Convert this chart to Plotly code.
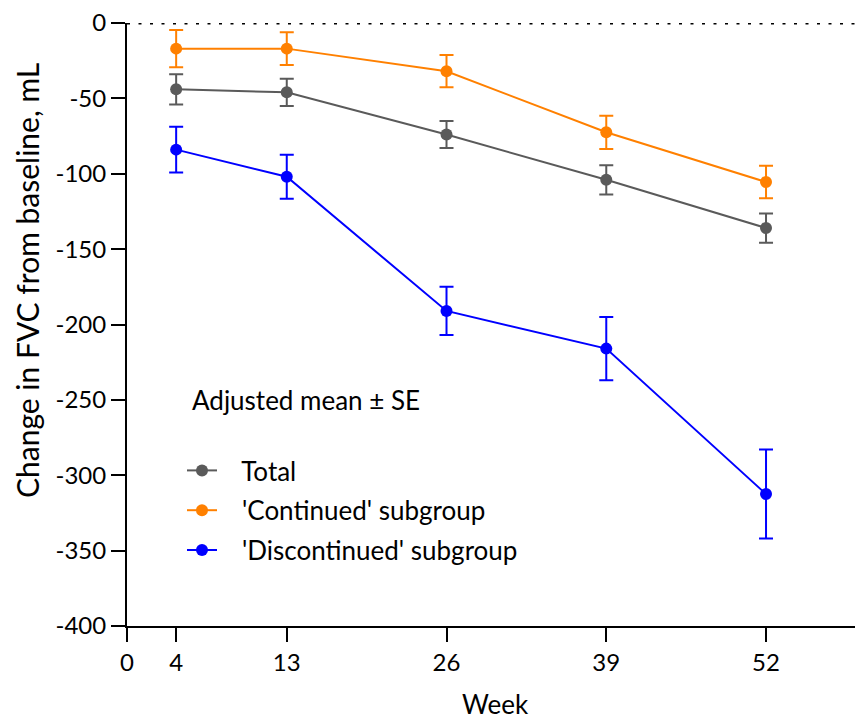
import plotly.graph_objects as go

weeks = [4, 13, 26, 39, 52]
total_mean = [-44, -46, -74, -104, -136]
total_se = [10, 9, 9, 9.7, 9.7]
cont_mean = [-17, -17, -32, -72.5, -105.5]
cont_se = [12.4, 10.8, 10.7, 11, 10.8]
disc_mean = [-84, -102, -191, -216, -312.5]
disc_se = [15.2, 14.6, 16, 21, 29.5]

x_ticks = [0, 4, 13, 26, 39, 52]
y_ticks = [0, -50, -100, -150, -200, -250, -300, -350, -400]

series = [
    ("Total", total_mean, total_se, "#5a5a5a"),
    ("'Continued' subgroup", cont_mean, cont_se, "#ff8000"),
    ("'Discontinued' subgroup", disc_mean, disc_se, "#0000ff"),
]

FONT = "Lato"
TICK = 24
TXT = 26
L, T, W, H = 127, 23, 728, 603

fig = go.Figure()
for i, (name, m, se, col) in enumerate(series):
    fig.add_trace(go.Scatter(
        x=weeks, y=m, name="\u00a0\u00a0\u00a0" + name, mode="lines+markers",
        line=dict(color=col, width=2),
        marker=dict(color=col, size=12),
        error_y=dict(type="data", array=se, visible=True, color=col, thickness=2, width=7),
        legendgroup=str(i),
    ))

fig.add_shape(type="line", xref="paper", yref="y", x0=0, x1=1, y0=0, y1=0,
              line=dict(color="black", width=3, dash="3px,8.5px"), layer="above")

def px(xp):
    return (xp - L) / W

def py(yp):
    return (T + H - yp) / H

fig.update_layout(
    width=855, height=720,
    margin=dict(l=L, r=855 - L - W, t=T, b=720 - T - H),
    plot_bgcolor="white", paper_bgcolor="white",
    font=dict(family=FONT, size=TICK, color="black"),
    showlegend=True,
    legend=dict(x=px(182), y=py(447), xanchor="left", yanchor="top",
                font=dict(size=TXT, family=FONT), tracegroupgap=3,
                bgcolor="rgba(0,0,0,0)", itemwidth=30),
    xaxis=dict(range=[0, 59.24], tickvals=x_ticks, ticktext=[str(v) for v in x_ticks],
               showgrid=False, zeroline=False, showline=True, linecolor="black", linewidth=2,
               ticks="outside", ticklen=14, tickwidth=2, tickcolor="black",
               tickfont=dict(size=TICK, family=FONT)),
    yaxis=dict(range=[-400, 0], tickvals=y_ticks, ticktext=[str(v) for v in y_ticks],
               showgrid=False, zeroline=False, showline=True, linecolor="black", linewidth=2,
               ticks="outside", ticklen=14, tickwidth=2, tickcolor="black",
               tickfont=dict(size=TICK, family=FONT)),
    annotations=[
        dict(text="Adjusted mean ± SE", xref="paper", yref="paper",
             x=px(190), y=py(400), xanchor="left", yanchor="middle",
             showarrow=False, font=dict(size=TXT, family=FONT)),
        dict(text="Week", xref="paper", yref="paper",
             x=px(495), y=py(704), xanchor="center", yanchor="middle",
             showarrow=False, font=dict(size=TXT, family=FONT)),
        dict(text="Change in FVC from baseline, mL", xref="paper", yref="paper",
             x=px(27), y=py(281), xanchor="center", yanchor="middle",
             textangle=-90, showarrow=False, font=dict(size=30, family=FONT)),
    ],
)

fig.write_html("out.html", config={"displayModeBar": False},
               post_script="document.body.style.margin='0';")
